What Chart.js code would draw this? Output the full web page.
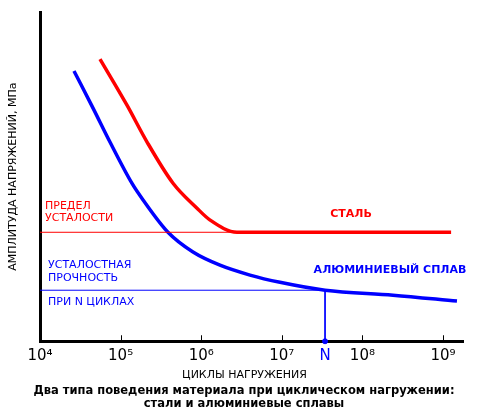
<!DOCTYPE html>
<html>
<head>
<meta charset="utf-8">
<script src="https://cdn.jsdelivr.net/npm/chart.js@4/dist/chart.umd.min.js"></script>
<style>
  html, body { margin: 0; padding: 0; background: #fff; }
  #wrap { width: 478px; height: 412px; }
</style>
</head>
<body>
<div id="wrap"><canvas id="sn"></canvas></div>
<script>
// циклы (лог. шкала) и амплитуда (условные единицы 0..100)
var steelCycles = [5.55e4, 1.2e5, 2.13e5, 4.47e5, 8.87e5, 1.29e6, 2.78e6, 1.26e9];
var steelStress = [85.7, 71.7, 60.5, 48.0, 40.4, 36.8, 33.1, 33.1];

var alloyCycles = [2.64e4, 4.55e4, 7.38e4, 1.38e5, 1.9e5, 3.87e5, 7.91e5, 1.71e6, 4.03e6, 9.5e6, 3.44e7, 2.4e8, 1.49e9];
var alloyStress = [82.1, 70.8, 60.5, 48.0, 42.9, 33.1, 27.1, 23.1, 20.1, 17.9, 15.5, 14.0, 12.2];

var fatigueLimit = 33.1;     // предел усталости стали
var limitEnd = 2.78e6;
var nCycles = 3.44e7;        // N
var nStrength = 15.5;        // усталостная прочность при N

var tickValues = [1e4, 1e5, 1e6, 1e7, nCycles, 1e8, 1e9];
var tickLabels = ['10⁴', '10⁵', '10⁶', '10⁷', 'N', '10⁸', '10⁹'];

var RED = '#ff0000', BLUE = '#0000ff';

function pts(xs, ys) {
  return xs.map(function(x, i) { return { x: x, y: ys[i] }; });
}

var labelsPlugin = {
  id: 'labels',
  afterDatasetsDraw: function(chart) {
    var ctx = chart.ctx, xs = chart.scales.x, ys = chart.scales.y;
    var area = chart.chartArea;
    ctx.save();
    // засечки внутрь
    ctx.strokeStyle = '#000';
    ctx.lineWidth = 1;
    [1e5, 1e6, 1e7, 1e8, 1e9].forEach(function(v) {
      var px = Math.round(xs.getPixelForValue(v)) + 0.5;
      ctx.beginPath();
      ctx.moveTo(px, area.bottom - 6);
      ctx.lineTo(px, area.bottom);
      ctx.stroke();
    });

    var yLim = ys.getPixelForValue(fatigueLimit);
    var yN = ys.getPixelForValue(nStrength);
    ctx.textBaseline = 'middle';
    ctx.textAlign = 'left';
    ctx.font = '11px "DejaVu Sans"';
    ctx.fillStyle = RED;
    ctx.fillText('ПРЕДЕЛ', area.left + 5, yLim - 26);
    ctx.fillText('УСТАЛОСТИ', area.left + 5, yLim - 14);
    ctx.fillStyle = BLUE;
    ctx.fillText('УСТАЛОСТНАЯ', area.left + 8, yN - 25);
    ctx.fillText('ПРОЧНОСТЬ', area.left + 8, yN - 12);
    ctx.fillText('ПРИ N ЦИКЛАХ', area.left + 8, yN + 12);

    ctx.font = 'bold 11px "DejaVu Sans"';
    ctx.textAlign = 'center';
    ctx.fillStyle = RED;
    ctx.fillText('СТАЛЬ', 351, yLim - 18);
    ctx.fillStyle = BLUE;
    ctx.fillText('АЛЮМИНИЕВЫЙ СПЛАВ', 390, yN - 20);
    ctx.restore();
  }
};

new Chart(document.getElementById('sn'), {
  type: 'scatter',
  data: {
    datasets: [
      { // предел усталости
        data: [{ x: 1e4, y: fatigueLimit }, { x: limitEnd, y: fatigueLimit }],
        showLine: true, borderColor: RED, borderWidth: 1, pointRadius: 0
      },
      { // уровень при N
        data: [{ x: 1e4, y: nStrength }, { x: nCycles, y: nStrength }],
        showLine: true, borderColor: BLUE, borderWidth: 1, pointRadius: 0
      },
      {
        data: [{ x: nCycles, y: nStrength }, { x: nCycles, y: 0 }],
        showLine: true, borderColor: BLUE, borderWidth: 1, pointRadius: 0
      },
      { // сталь
        data: pts(steelCycles, steelStress),
        showLine: true, borderColor: RED, borderWidth: 3.5, pointRadius: 0,
        cubicInterpolationMode: 'monotone'
      },
      { // алюминиевый сплав
        data: pts(alloyCycles, alloyStress),
        showLine: true, borderColor: BLUE, borderWidth: 3.5, pointRadius: 0,
        cubicInterpolationMode: 'monotone'
      },
      {
        data: [{ x: nCycles, y: 0 }],
        pointRadius: 2.5, pointBackgroundColor: BLUE, pointBorderColor: BLUE, clip: false
      }
    ]
  },
  options: {
    responsive: true,
    maintainAspectRatio: false,
    animation: false,
    layout: { padding: { top: 12, right: 0, left: 10, bottom: 1 } },
    plugins: {
      legend: { display: false },
      tooltip: { enabled: false },
      title: {
        display: true,
        position: 'bottom',
        text: ['Два типа поведения материала при циклическом нагружении:', 'стали и алюминиевые сплавы'],
        color: '#000',
        font: { family: '"DejaVu Sans"', size: 11.5, weight: 'bold', lineHeight: 1.13 },
        padding: { top: 1, bottom: 0 }
      }
    },
    scales: {
      x: {
        type: 'logarithmic',
        min: 1e4,
        max: 1.77e9,
        afterBuildTicks: function(scale) {
          scale.ticks = tickValues.map(function(v) { return { value: v }; });
        },
        ticks: {
          autoSkip: false,
          maxRotation: 0,
          padding: 8,
          font: { family: '"DejaVu Sans"', size: 15, lineHeight: 0.85 },
          color: function(c) { return c.tick && c.tick.value === nCycles ? BLUE : '#000'; },
          callback: function(v, i) { return tickLabels[i]; }
        },
        grid: { display: false, drawTicks: false },
        border: { display: true, color: '#000', width: 3 },
        title: {
          display: true,
          text: 'ЦИКЛЫ НАГРУЖЕНИЯ\u00a0\u00a0\u00a0\u00a0',
          color: '#000',
          font: { family: '"DejaVu Sans"', size: 11, lineHeight: 1.0 },
          padding: { top: 0, bottom: 3 }
        }
      },
      y: {
        min: 0,
        max: 100,
        ticks: { display: false },
        grid: { display: false, drawTicks: false },
        border: { display: true, color: '#000', width: 3 },
        title: {
          display: true,
          text: 'АМПЛИТУДА НАПРЯЖЕНИЙ, МПа',
          color: '#000',
          font: { family: '"DejaVu Sans"', size: 11 },
          padding: { top: -3.6, bottom: 20.4 }
        }
      },
      side: {
        position: 'right',
        ticks: { display: false },
        grid: { display: false, drawTicks: false },
        border: { display: false },
        afterFit: function(scale) { scale.width = 15; }
      }
    }
  },
  plugins: [labelsPlugin]
});
</script>
</body>
</html>
